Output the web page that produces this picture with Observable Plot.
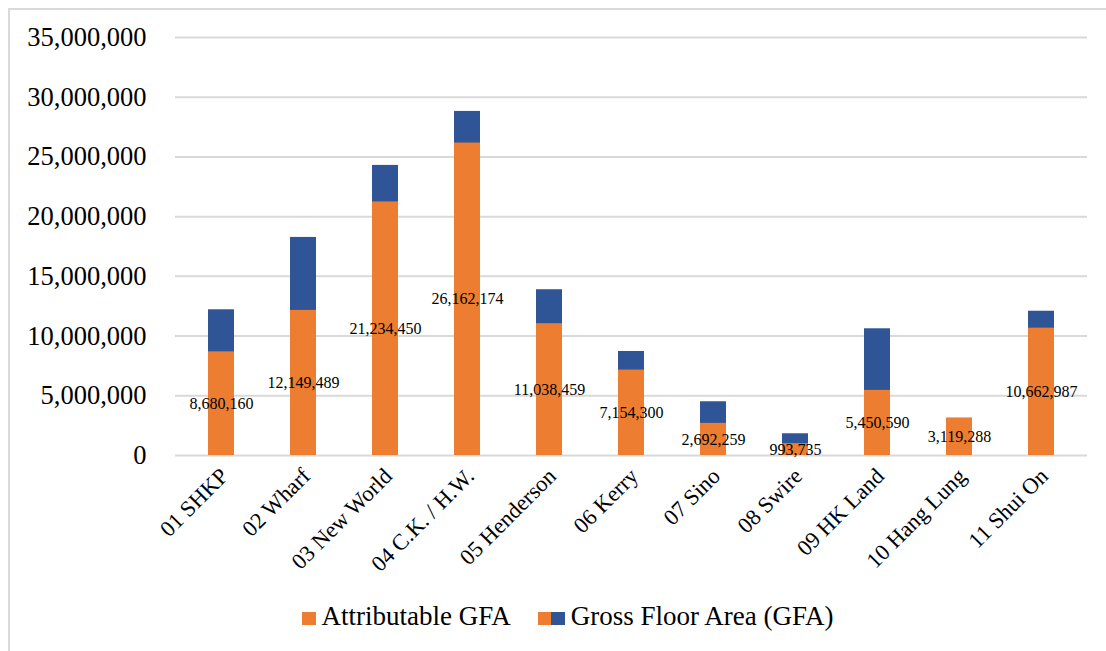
<!DOCTYPE html>
<html>
<head>
<meta charset="utf-8">
<script src="https://cdn.jsdelivr.net/npm/d3@7"></script>
<script src="https://cdn.jsdelivr.net/npm/@observablehq/plot@0.6"></script>
<style>
  html, body { margin: 0; padding: 0; background: #fff; overflow: hidden; }
  body { width: 1106px; height: 651px; position: relative; font-family: "Liberation Serif", "Times New Roman", serif; }
  #frame { position: absolute; left: 8px; top: 8px; width: 1200px; height: 700px;
           border-top: 2px solid #d9d9d9; border-left: 2px solid #d9d9d9; pointer-events: none; }
  #chart { position: absolute; left: 0; top: 0; }
  #legend { position: absolute; left: 302px; top: 603px; display: flex; align-items: baseline;
            font-family: "Liberation Serif", "Times New Roman", serif;
            font-size: 27px; line-height: 1; color: #000; white-space: nowrap; }
  .sw { display: inline-block; width: 13.5px; height: 13.5px; vertical-align: baseline; }
</style>
</head>
<body>
<div id="chart"></div>
<div id="legend">
  <span class="sw" style="background:#ED7D31"></span>
  <span style="margin-left:6px">Attributable GFA</span>
  <span class="sw" style="background:#ED7D31;margin-left:27px"></span><span class="sw" style="background:#2F5597"></span>
  <span style="margin-left:6px">Gross Floor Area (GFA)</span>
</div>
<div id="frame"></div>
<script>
// Developers and their floor areas (sq ft)
const companies = [
  "01 SHKP", "02 Wharf", "03 New World", "04 C.K. / H.W.", "05 Henderson",
  "06 Kerry", "07 Sino", "08 Swire", "09 HK Land", "10 Hang Lung", "11 Shui On"
];
const attributableGFA = [
  8680160, 12149489, 21234450, 26162174, 11038459,
  7154300, 2692259, 993735, 5450590, 3119288, 10662987
];
const grossFloorArea = [
  12200000, 18260000, 24290000, 28810000, 13880000,
  8710000, 4500000, 1820000, 10610000, 3119288, 12080000
];
const yTicks = [0, 5000000, 10000000, 15000000, 20000000, 25000000, 30000000, 35000000];

const rows = companies.map((c, i) => ({
  company: c,
  attributable: attributableGFA[i],
  gross: grossFloorArea[i]
}));

const fmt = d3.format(",");
const orange = "#ED7D31";
const blue = "#2F5597";

const chart = Plot.plot({
  width: 1106,
  height: 590,
  marginLeft: 175,
  marginRight: 19,
  marginTop: 37,
  marginBottom: 135,
  style: { fontFamily: "'Liberation Serif', 'Times New Roman', serif", background: "transparent", color: "#000" },
  x: { domain: companies, paddingInner: 0.686, paddingOuter: 0.343, axis: null },
  y: { domain: [0, 35000000], axis: null },
  marks: [
    Plot.ruleY(yTicks, { stroke: "#d9d9d9", strokeWidth: 2 }),
    Plot.axisY(yTicks, {
      tickSize: 0, tickPadding: 29, tickFormat: fmt,
      fontSize: 26.5, fill: "#000", label: null
    }),
    // full GFA bar behind, attributable share in front
    Plot.barY(rows, { x: "company", y: "gross", fill: blue }),
    Plot.barY(rows, { x: "company", y: "attributable", fill: orange }),
    Plot.text(rows, {
      x: "company", y: d => d.attributable / 2,
      text: d => fmt(d.attributable), fontSize: 16, fill: "#000"
    }),
    Plot.text(companies, {
      x: d => d, frameAnchor: "bottom", rotate: -45, textAnchor: "end",
      dx: 8, dy: 22, fontSize: 22.5, fill: "#000"
    })
  ]
});
document.getElementById("chart").appendChild(chart);
</script>
</body>
</html>
